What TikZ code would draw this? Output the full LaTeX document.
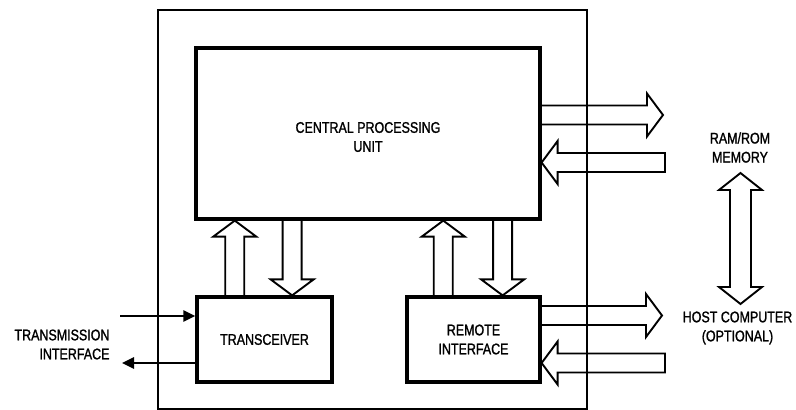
\documentclass[tikz,border=0pt]{standalone}
\usepackage{fontspec}
\setmainfont{Liberation Sans}[FakeStretch=0.81,FakeBold=1.3]
\usetikzlibrary{arrows.meta,calc,positioning}

% hollow bus arrow from #2 to #3, #1 closes the tail
\newcommand{\fatarrow}[3][]{%
  \draw[fat] ($(#2)!9.5pt!90:(#3)$) -- ($(#3)!16pt!(#2)!9.5pt!-90:(#2)$)
    -- ($(#3)!16pt!(#2)!21.5pt!-90:(#2)$) -- (#3)
    -- ($(#3)!16pt!(#2)!21.5pt!90:(#2)$) -- ($(#3)!16pt!(#2)!9.5pt!90:(#2)$)
    -- ($(#2)!9.5pt!-90:(#3)$) #1;}
\newcommand{\fatdoublearrow}[2]{%
  \draw[fat] (#1) -- ($(#1)!17pt!(#2)!21.5pt!90:(#2)$) -- ($(#1)!17pt!(#2)!10.5pt!90:(#2)$)
    -- ($(#2)!17pt!(#1)!10.5pt!-90:(#1)$) -- ($(#2)!17pt!(#1)!21.5pt!-90:(#1)$) -- (#2)
    -- ($(#2)!17pt!(#1)!21.5pt!90:(#1)$) -- ($(#2)!17pt!(#1)!10.5pt!90:(#1)$)
    -- ($(#1)!17pt!(#2)!10.5pt!-90:(#2)$) -- ($(#1)!17pt!(#2)!21.5pt!-90:(#2)$) -- cycle;}

\begin{document}
\begin{tikzpicture}[x=1pt,y=-1pt,
  every node/.style={font=\fontsize{15.4}{19}\selectfont,align=center},
  frame/.style={draw,line width=2.2pt,minimum width=429pt,minimum height=399pt},
  block/.style={draw,line width=3.2pt,inner sep=0pt},
  fat/.style={line width=1.9pt},
  signal/.style={line width=2.7pt,-{Triangle[length=12pt,width=11pt]}}]
\useasboundingbox (0,0) rectangle (796,410);
\node[frame] (board) at (372.5,209.5) {};
\node[block,minimum width=344pt,minimum height=171pt] (cpu) at (368,133.5) {};
\node[yshift=-3.5pt] (cpu label) at (cpu.center) {CENTRAL PROCESSING\\UNIT};
\node[block,minimum width=135pt,minimum height=85pt] (trx) at (264.5,339.5) {TRANSCEIVER};
\node[block,minimum width=133pt,minimum height=85pt,right=71.8pt of trx] (rem) {REMOTE\\INTERFACE};
\node (ram) at (740,147.5) {RAM/ROM\\MEMORY};
\node (host) at (737.5,328) {HOST COMPUTER\\(OPTIONAL)};
\node[anchor=east,align=right] (line) at (113,344.5) {TRANSMISSION\\INTERFACE};
% buses between the blocks
\coordinate (tu0) at ($(trx.north west)!0.285!(trx.north east)$);
\coordinate (tu1) at (tu0 |- cpu.south);
\coordinate (td0) at ($(trx.north west)!0.70!(trx.north east)$);
\coordinate (td1) at (td0 |- cpu.south);
\coordinate (ru0) at ($(rem.north west)!0.278!(rem.north east)$);
\coordinate (ru1) at (ru0 |- cpu.south);
\coordinate (rd0) at ($(rem.north west)!0.714!(rem.north east)$);
\coordinate (rd1) at (rd0 |- cpu.south);
\fatarrow{tu0}{tu1}
\fatarrow{td1}{td0}
\fatarrow{ru0}{ru1}
\fatarrow{rd1}{rd0}
% buses to memory and host
\coordinate (c1) at ($(cpu.east)+(0,-18.5)$);
\coordinate (m1) at ($(c1)+(121.4,0)$);
\coordinate (c2) at ($(cpu.east)+(0,29)$);
\coordinate (m2) at ($(c2)+(123.4,0)$);
\coordinate (r1) at ($(rem.east)+(0,-24)$);
\coordinate (h1) at ($(r1)+(120.4,0)$);
\coordinate (r2) at ($(rem.east)+(0,23.5)$);
\coordinate (h2) at ($(r2)+(123.4,0)$);
\fatarrow{c1}{m1}
\fatarrow[-- cycle]{m2}{c2}
\fatarrow{r1}{h1}
\fatarrow[-- cycle]{h2}{r2}
\coordinate (d1) at (740.5,173);
\coordinate (d2) at (740.5,304);
\fatdoublearrow{d1}{d2}
% transmission lines
\coordinate (rx) at (120,316);
\coordinate (tx) at (122,363);
\draw[signal] (rx) -- (rx -| trx.west);
\draw[signal] (tx -| trx.west) -- (tx);
\end{tikzpicture}
\end{document}
